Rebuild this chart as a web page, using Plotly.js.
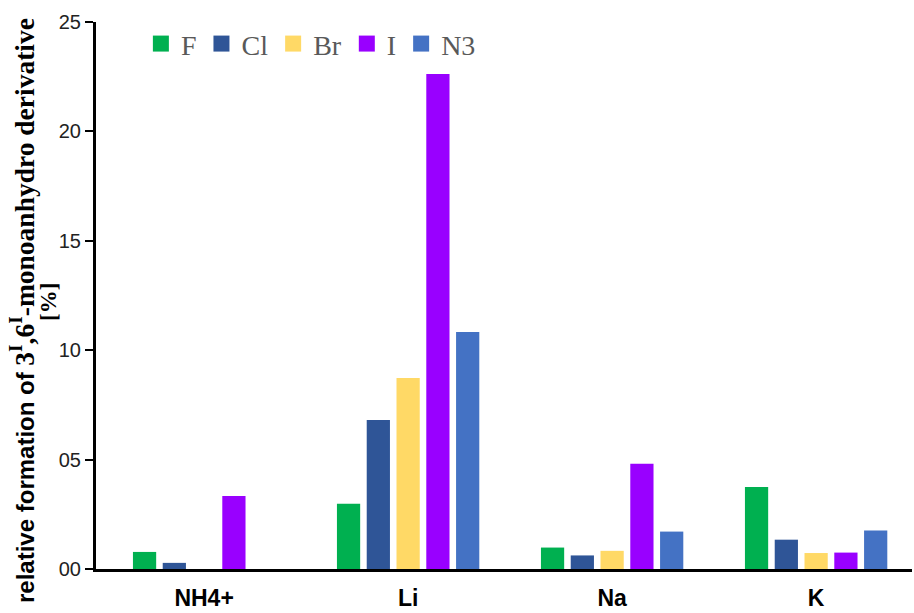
<!DOCTYPE html>
<html>
<head>
<meta charset="utf-8">
<script src="https://cdn.plot.ly/plotly-3.0.1.min.js"></script>
<style>html,body{margin:0;padding:0;background:#fff;}</style>
</head>
<body>
<div id="chart" style="width:914px;height:613px;"></div>
<script>
const categories = ["NH4+", "Li", "Na", "K"];
const seriesNames = ["F", "Cl", "Br", "I", "N3"];
const F  = [0.78, 2.98, 0.98, 3.75];
const Cl = [0.28, 6.81, 0.62, 1.34];
const Br = [0, 8.73, 0.83, 0.73];
const I  = [3.34, 22.62, 4.81, 0.75];
const N3 = [0, 10.83, 1.71, 1.76];
const colors = ["#00B050", "#2F5597", "#FFD966", "#9900FF", "#4472C4"];
const yTickVals = [0, 5, 10, 15, 20, 25];
const yTickText = ["00", "05", "10", "15", "20", "25"];
const yTitleLine1 = "relative formation of ";
const yTitleLine1b = "3<sup>I</sup>,6<sup>I</sup>-monoanhydro derivative";
const yTitleLine2 = "[%]";

const values = [F, Cl, Br, I, N3];
const traces = seriesNames.map((n, i) => ({
  type: "bar",
  name: n,
  x: categories,
  y: values[i],
  legendgroup: n,
  showlegend: false,
  marker: {color: colors[i], line: {width: 0}}
}));
// legend entries with larger square swatches
seriesNames.forEach((n, i) => {
  traces.push({
    type: "scatter",
    mode: "markers",
    name: n,
    x: [null], y: [null],
    legendgroup: n,
    showlegend: true,
    marker: {symbol: "square", size: 16, color: colors[i], line: {width: 0}}
  });
});

const serif = "'Liberation Serif',serif";
const layout = {
  width: 914, height: 613,
  margin: {l: 96, r: 2, t: 22, b: 44},
  paper_bgcolor: "#fff", plot_bgcolor: "#fff",
  barmode: "group",
  bargap: 0.27,
  bargroupgap: 0.22,
  showlegend: true,
  legend: {
    orientation: "h",
    x: 0.055, xanchor: "left",
    y: 0.96, yanchor: "middle",
    font: {family: "Liberation Serif, Times New Roman, serif", size: 28, color: "#595959"},
    bgcolor: "rgba(0,0,0,0)",
    itemclick: false
  },
  xaxis: {
    type: "category",
    range: [-0.53, 3.47],
    showline: true, linecolor: "#000", linewidth: 3,
    ticks: "outside", ticklen: 6, tickcolor: "rgba(0,0,0,0)",
    tickfont: {family: "Liberation Sans, Arial, sans-serif", size: 23, color: "#000", weight: "bold"},
    showgrid: false, zeroline: false
  },
  yaxis: {
    range: [0, 25],
    tickmode: "array",
    tickvals: yTickVals,
    ticktext: yTickText,
    showline: true, linecolor: "#000", linewidth: 3,
    ticks: "outside", ticklen: 8, tickwidth: 2, tickcolor: "#000",
    tickfont: {family: "Liberation Sans, Arial, sans-serif", size: 20, color: "#222"},
    showgrid: false, zeroline: false
  },
  annotations: [
    {
      xref: "paper", yref: "paper",
      x: (22 - 96) / 816, y: (569 - 311) / 547,
      xanchor: "center", yanchor: "middle",
      textangle: -90, showarrow: false,
      text: "<b>" + yTitleLine1 + "<span style=\"font-family:" + serif + ";font-size:27.5px\">" + yTitleLine1b + "</span></b>",
      font: {family: "Liberation Sans, Arial, sans-serif", size: 24, color: "#000"}
    },
    {
      xref: "paper", yref: "paper",
      x: (48 - 96) / 816, y: (569 - 302) / 547,
      xanchor: "center", yanchor: "middle",
      textangle: -90, showarrow: false,
      text: "<b>" + yTitleLine2 + "</b>",
      font: {family: "Liberation Serif, Times New Roman, serif", size: 23, color: "#000"}
    }
  ]
};

Plotly.newPlot("chart", traces, layout, {displayModeBar: false, staticPlot: true});
</script>
</body>
</html>
